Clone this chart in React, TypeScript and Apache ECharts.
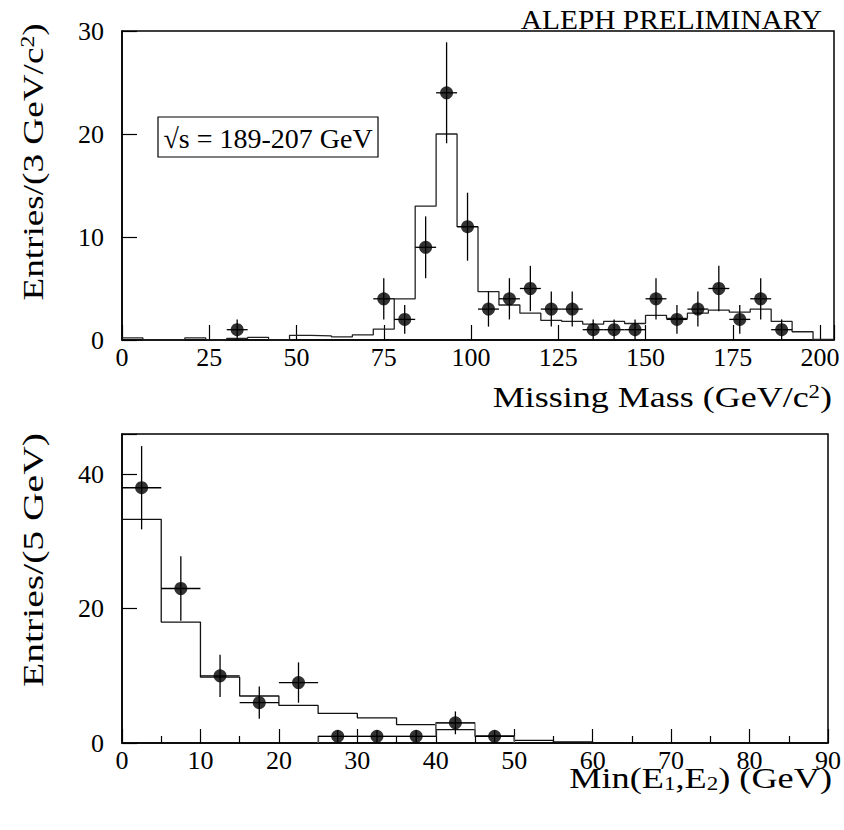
import React, { useEffect, useRef } from 'react';
import * as echarts from 'echarts';

const SERIF = 'Liberation Serif';

// ---------- Top panel: Missing Mass ----------
const topBinWidth = 6;
// expected (MC) histogram, bins 0-6, 6-12, ..., 198-204
const topMcValues = [
  0.2, 0, 0, 0.2, 0, 0.15, 0.25, 0, 0.45, 0.4, 0.3, 0.5,
  1.06, 4.0, 13.0, 20.0, 11.0, 4.7, 3.4, 2.6, 1.9, 1.8, 1.55, 1.8,
  1.6, 2.4, 2.1, 2.6, 2.9, 2.7, 3.0, 1.8, 0.8, 0.05,
];
const topPointX = [33, 75, 81, 87, 93, 99, 105, 111, 117, 123, 129, 135, 141, 147, 153, 159, 165, 171, 177, 183, 189];
const topPointY = [1, 4, 2, 9, 24, 11, 3, 4, 5, 3, 3, 1, 1, 1, 4, 2, 3, 5, 2, 4, 1];
const topPointErr = [1, 2, 1.4, 3, 4.9, 3.3, 1.7, 2, 2.2, 1.7, 1.7, 1, 1, 1, 2, 1.4, 1.7, 2.2, 1.4, 2, 1];
const topXTicks = [0, 25, 50, 75, 100, 125, 150, 175, 200];
const topYTicks = [0, 10, 20, 30];

// ---------- Bottom panel: Min(E1,E2) ----------
const botBinWidth = 5;
const botMcValues = [33.3, 18.0, 9.8, 7.0, 5.6, 4.4, 3.75, 2.75, 2.0, 1.05, 0.4, 0.15, 0, 0, 0, 0, 0, 0];
const botGrayStart = 25;
const botGrayValues = [1, 1, 1, 3, 1];
const botPointX = [2.5, 7.5, 12.5, 17.5, 22.5, 27.5, 32.5, 37.5, 42.5, 47.5];
const botPointY = [38, 23, 10, 6, 9, 1, 1, 1, 3, 1];
const botPointErr = [6.2, 4.8, 3.15, 2.4, 3, 0.9, 0.9, 0.9, 1.7, 0.9];
const botXTicks = [0, 10, 20, 30, 40, 50, 60, 70, 80, 90];
const botYTicks = [0, 20, 40];

function stepData(start: number, width: number, values: number[], closeToZero: boolean) {
  const d: number[][] = [];
  if (closeToZero) d.push([start, 0]);
  values.forEach((v, i) => d.push([start + i * width, v]));
  d.push([start + values.length * width, values[values.length - 1]]);
  if (closeToZero) d.push([start + values.length * width, 0]);
  return d;
}

function errorRender(params: any, api: any) {
  const x = api.value(0);
  const y = api.value(1);
  const e = api.value(2);
  const hw = api.value(3);
  const c = api.coord([x, y]);
  const t = api.coord([x, y + e]);
  const b = api.coord([x, Math.max(0, y - e)]);
  const l = api.coord([x - hw, y]);
  const r = api.coord([x + hw, y]);
  const st = { stroke: '#000', lineWidth: 1.3 };
  return {
    type: 'group',
    children: [
      { type: 'line', shape: { x1: c[0], y1: t[1], x2: c[0], y2: b[1] }, style: st },
      { type: 'line', shape: { x1: l[0], y1: c[1], x2: r[0], y2: c[1] }, style: st },
    ],
  };
}

function axisCommon() {
  return {
    axisLine: { show: true, lineStyle: { color: '#000', width: 1.5 } },
    splitLine: { show: false },
    axisLabel: { color: '#000', fontSize: 26, fontFamily: SERIF },
  };
}

export default function App() {
  const ref = useRef<HTMLDivElement>(null);
  useEffect(() => {
    if (!ref.current) return;
    const chart = echarts.init(ref.current, undefined, { renderer: 'svg' });
    const textStyle = (size: number) => ({ fontSize: size, fontFamily: SERIF, fill: '#000' });
    const option: any = {
      animation: false,
      backgroundColor: '#fff',
      grid: [
        { left: 122, top: 31, width: 712, height: 309, show: true, borderColor: '#000', borderWidth: 1.5, backgroundColor: 'transparent' },
        { left: 122, top: 434, width: 712, height: 309, show: true, borderColor: '#000', borderWidth: 1.5, backgroundColor: 'transparent' },
      ],
      xAxis: [
        {
          gridIndex: 0, type: 'value', min: 0, max: 204, interval: 25,
          ...axisCommon(),
          axisTick: { show: true, inside: true, length: 15, lineStyle: { color: '#000', width: 1.2 } },
          axisLabel: {
            ...axisCommon().axisLabel, margin: 4,
            formatter: (v: number) => (topXTicks.includes(v) ? String(v) : ''),
          },
        },
        {
          gridIndex: 1, type: 'value', min: 0, max: 90, interval: 10,
          ...axisCommon(),
          axisTick: { show: true, inside: true, length: 14, lineStyle: { color: '#000', width: 1.2 } },
          minorTick: { show: true, splitNumber: 2, length: 7, lineStyle: { color: '#000', width: 1.2 } },
          axisLabel: {
            ...axisCommon().axisLabel, margin: 4,
            formatter: (v: number) => (botXTicks.includes(v) ? String(v) : ''),
          },
        },
      ],
      yAxis: [
        {
          gridIndex: 0, type: 'value', min: 0, max: 30, interval: 10,
          ...axisCommon(),
          axisTick: { show: true, inside: true, length: 15, lineStyle: { color: '#000', width: 1.2 } },
          axisLabel: {
            ...axisCommon().axisLabel, margin: 18,
            formatter: (v: number) => (topYTicks.includes(v) ? String(v) : ''),
          },
        },
        {
          gridIndex: 1, type: 'value', min: 0, max: 46, interval: 20,
          ...axisCommon(),
          axisTick: { show: true, inside: true, length: 15, lineStyle: { color: '#000', width: 1.2 } },
          axisLabel: {
            ...axisCommon().axisLabel, margin: 18,
            formatter: (v: number) => (botYTicks.includes(v) ? String(v) : ''),
          },
        },
      ],
      series: [
        {
          type: 'line', xAxisIndex: 0, yAxisIndex: 0, step: 'end', symbol: 'none', silent: true,
          data: stepData(0, topBinWidth, topMcValues, false),
          lineStyle: { color: '#222', width: 1.3 }, z: 2,
        },
        {
          type: 'custom', xAxisIndex: 0, yAxisIndex: 0, renderItem: errorRender, silent: true,
          data: topPointX.map((x, i) => [x, topPointY[i], topPointErr[i], topBinWidth / 2]),
          encode: { x: 0, y: 1 }, z: 3,
        },
        {
          type: 'scatter', xAxisIndex: 0, yAxisIndex: 0, symbolSize: 13, silent: true,
          itemStyle: { color: '#000' },
          data: topPointX.map((x, i) => [x, topPointY[i]]), z: 4,
        },
        {
          type: 'line', xAxisIndex: 1, yAxisIndex: 1, step: 'end', symbol: 'none', silent: true,
          data: stepData(0, botBinWidth, botMcValues, false),
          lineStyle: { color: '#111', width: 1.3 }, z: 2,
        },
        {
          type: 'line', xAxisIndex: 1, yAxisIndex: 1, step: 'end', symbol: 'none', silent: true,
          data: stepData(botGrayStart, botBinWidth, botGrayValues, true),
          lineStyle: { color: '#666', width: 1.3 }, z: 2,
        },
        {
          type: 'custom', xAxisIndex: 1, yAxisIndex: 1, renderItem: errorRender, silent: true,
          data: botPointX.map((x, i) => [x, botPointY[i], botPointErr[i], botBinWidth / 2]),
          encode: { x: 0, y: 1 }, z: 3,
        },
        {
          type: 'scatter', xAxisIndex: 1, yAxisIndex: 1, symbolSize: 13, silent: true,
          itemStyle: { color: '#000' },
          data: botPointX.map((x, i) => [x, botPointY[i]]), z: 4,
        },
      ],
      graphic: [
        {
          type: 'text', x: 822, y: 19, scaleX: 1.05,
          style: { ...textStyle(28), text: 'ALEPH PRELIMINARY', align: 'right', textAlign: 'right', verticalAlign: 'middle', textVerticalAlign: 'middle' },
        },
        {
          type: 'rect', shape: { x: 158, y: 117, width: 220, height: 40 },
          style: { fill: 'none', stroke: '#000', lineWidth: 1.2 },
        },
        {
          type: 'text', x: 268, y: 138,
          style: { ...textStyle(28), text: '√s = 189-207 GeV', align: 'center', textAlign: 'center', verticalAlign: 'middle', textVerticalAlign: 'middle' },
        },
        {
          type: 'text', x: 33, y: 162, rotation: Math.PI / 2, scaleX: 1.24,
          style: {
            ...textStyle(30), text: 'Entries/(3 GeV/c{sup|2})',
            align: 'center', textAlign: 'center', verticalAlign: 'middle', textVerticalAlign: 'middle',
            rich: { sup: { ...textStyle(19), verticalAlign: 'top' } },
          },
        },
        {
          type: 'text', x: 33, y: 560, rotation: Math.PI / 2, scaleX: 1.32,
          style: {
            ...textStyle(30), text: 'Entries/(5 GeV)',
            align: 'center', textAlign: 'center', verticalAlign: 'middle', textVerticalAlign: 'middle',
          },
        },
        {
          type: 'text', x: 832, y: 397, scaleX: 1.2,
          style: {
            ...textStyle(30), text: 'Missing Mass (GeV/c{sup|2})',
            align: 'right', textAlign: 'right', verticalAlign: 'middle', textVerticalAlign: 'middle',
            rich: { sup: { ...textStyle(19), verticalAlign: 'top' } },
          },
        },
        {
          type: 'text', x: 832, y: 778, scaleX: 1.21,
          style: {
            ...textStyle(30), text: 'Min(E{sub|1},E{sub|2}) (GeV)',
            align: 'right', textAlign: 'right', verticalAlign: 'middle', textVerticalAlign: 'middle',
            rich: { sub: { ...textStyle(19), verticalAlign: 'bottom' } },
          },
        },
      ],
    };
    chart.setOption(option);
    return () => chart.dispose();
  }, []);
  return <div ref={ref} style={{ position: 'absolute', left: 0, top: 0, width: 844, height: 830 }} />;
}
